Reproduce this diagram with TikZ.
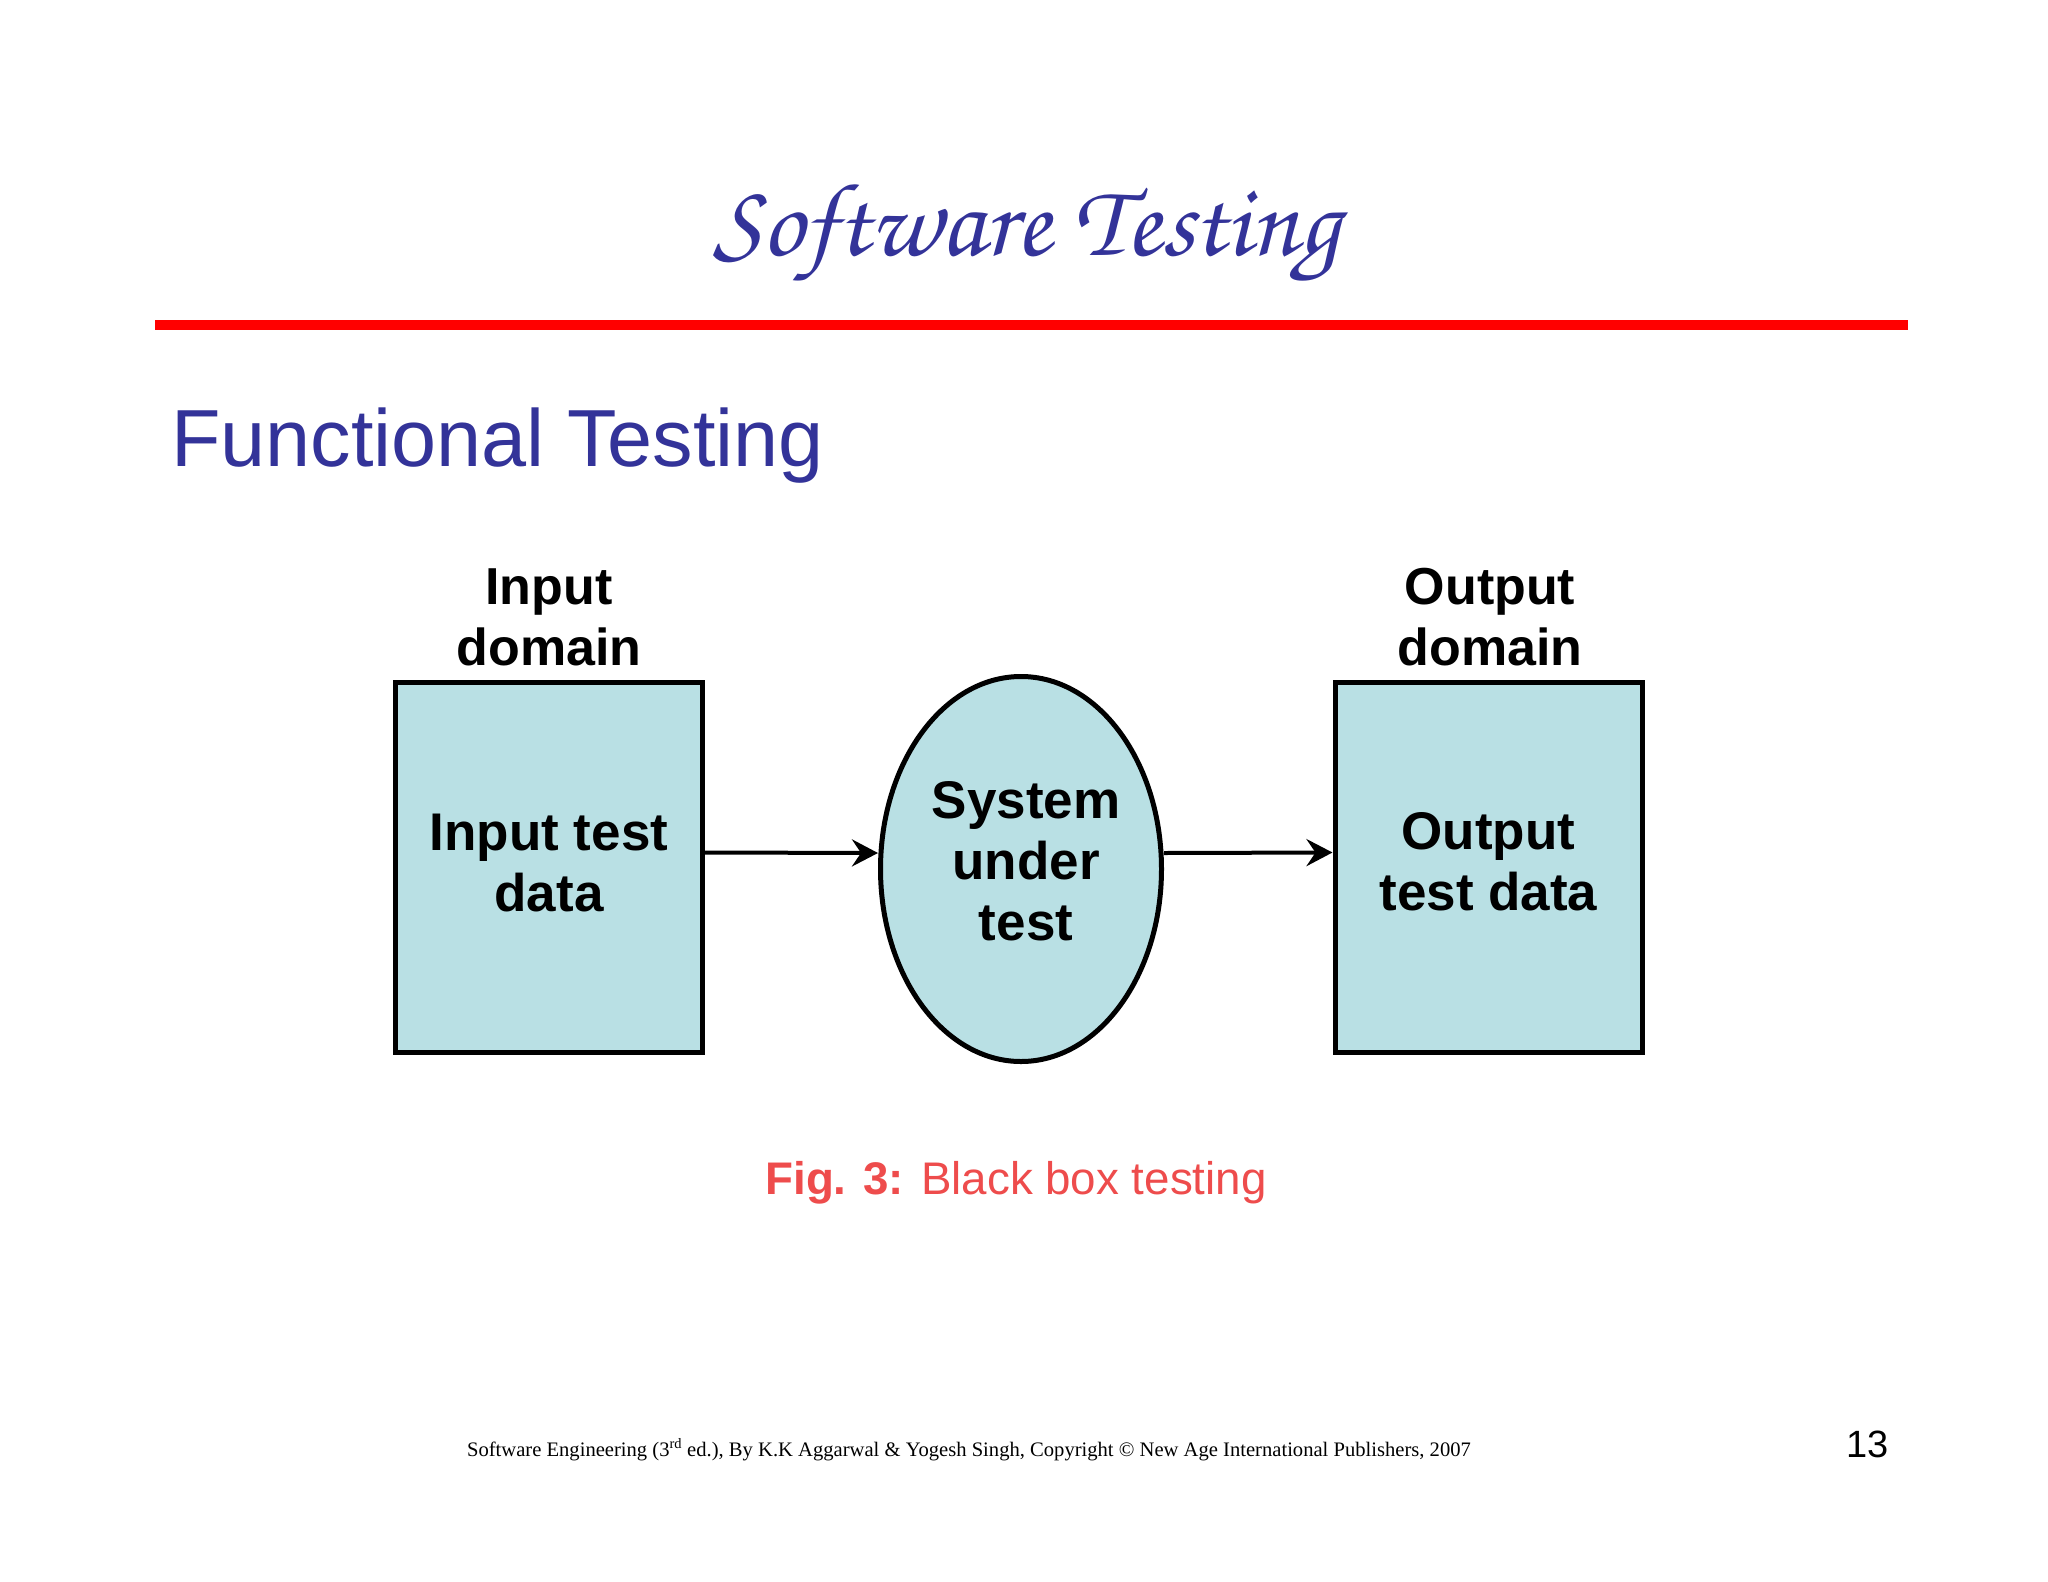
\documentclass[tikz,border=0pt]{standalone}
\usepackage{fontspec}
\usetikzlibrary{shapes.geometric,arrows.meta}
\newfontfamily\arialf{Liberation Sans}
\newfontfamily\tnrf{Liberation Serif}
\newfontfamily\chorusf{TeX Gyre Chorus}
\definecolor{slideblue}{RGB}{51,51,153}
\definecolor{boxfill}{RGB}{185,224,228}
\definecolor{capred}{RGB}{238,76,76}
\tikzset{
  blk/.style={draw=black, line width=5pt, fill=boxfill, align=center,
    font=\arialf\bfseries\fontsize{53}{61}\selectfont, text=black},
  domlabel/.style={black, align=center, font=\arialf\bfseries\fontsize{52}{61}\selectfont},
  arr/.style={line width=4pt, -{Stealth[length=26pt,width=27pt,inset=9pt]}},
}
\begin{document}
\begin{tikzpicture}[x=1pt,y=1pt]
\useasboundingbox[fill=white] (0,0) rectangle (2048,-1582);
% title
\node[anchor=base, text=slideblue, font=\chorusf\fontsize{104}{114}\selectfont, inner sep=0] (title) at (1027,-255) {Software Testing};
\draw[line width=10pt, red] (155,-325) -- (1908,-325);
\node[anchor=base west, text=slideblue, font=\arialf\fontsize{81}{90}\selectfont, inner sep=0] (sub) at (171,-466) {Functional Testing};
% diagram
\node[blk, rectangle, minimum width=307pt, minimum height=370pt] (inbox) at (549,-867.5) {};
\node[blk, ellipse, minimum width=281pt, minimum height=385pt, inner sep=0] (sys) at (1021,-869) {};
\node[blk, rectangle, minimum width=307pt, minimum height=370pt] (outbox) at (1488.5,-867.5) {};
\node[blk, draw=none, fill=none] (intxt) at ([yshift=4pt]inbox.center) {Input test\\data};
\node[blk, draw=none, fill=none] (systxt) at ([xshift=5pt,yshift=8pt]sys.center) {System\\under\\test};
\node[blk, draw=none, fill=none] (outtxt) at ([yshift=6pt]outbox.center) {Output\\test data};
\node[domlabel] (indom) at (549,-617) {Input\\domain};
\node[domlabel] (outdom) at (1490,-617) {Output\\domain};
\draw[arr] ([yshift=15pt]inbox.east) -- ([yshift=16pt]sys.west);
\draw[arr] ([yshift=16pt]sys.east) -- ([yshift=15pt]outbox.west);
% caption
\node[anchor=base, text=capred, font=\arialf\fontsize{45.7}{54}\selectfont, inner sep=0] (cap) at (1016,-1194) {\textbf{Fig. 3:} Black box testing};
% footer
\node[anchor=base, font=\tnrf\fontsize{20.6}{24}\selectfont, inner sep=0] (foot) at (969,-1456) {Software Engineering (3\textsuperscript{rd} ed.), By K.K Aggarwal \& Yogesh Singh, Copyright © New Age International Publishers, 2007};
\node[anchor=base east, font=\arialf\fontsize{38}{44}\selectfont, inner sep=0] (pg) at (1889,-1457) {13};
\end{tikzpicture}
\end{document}
